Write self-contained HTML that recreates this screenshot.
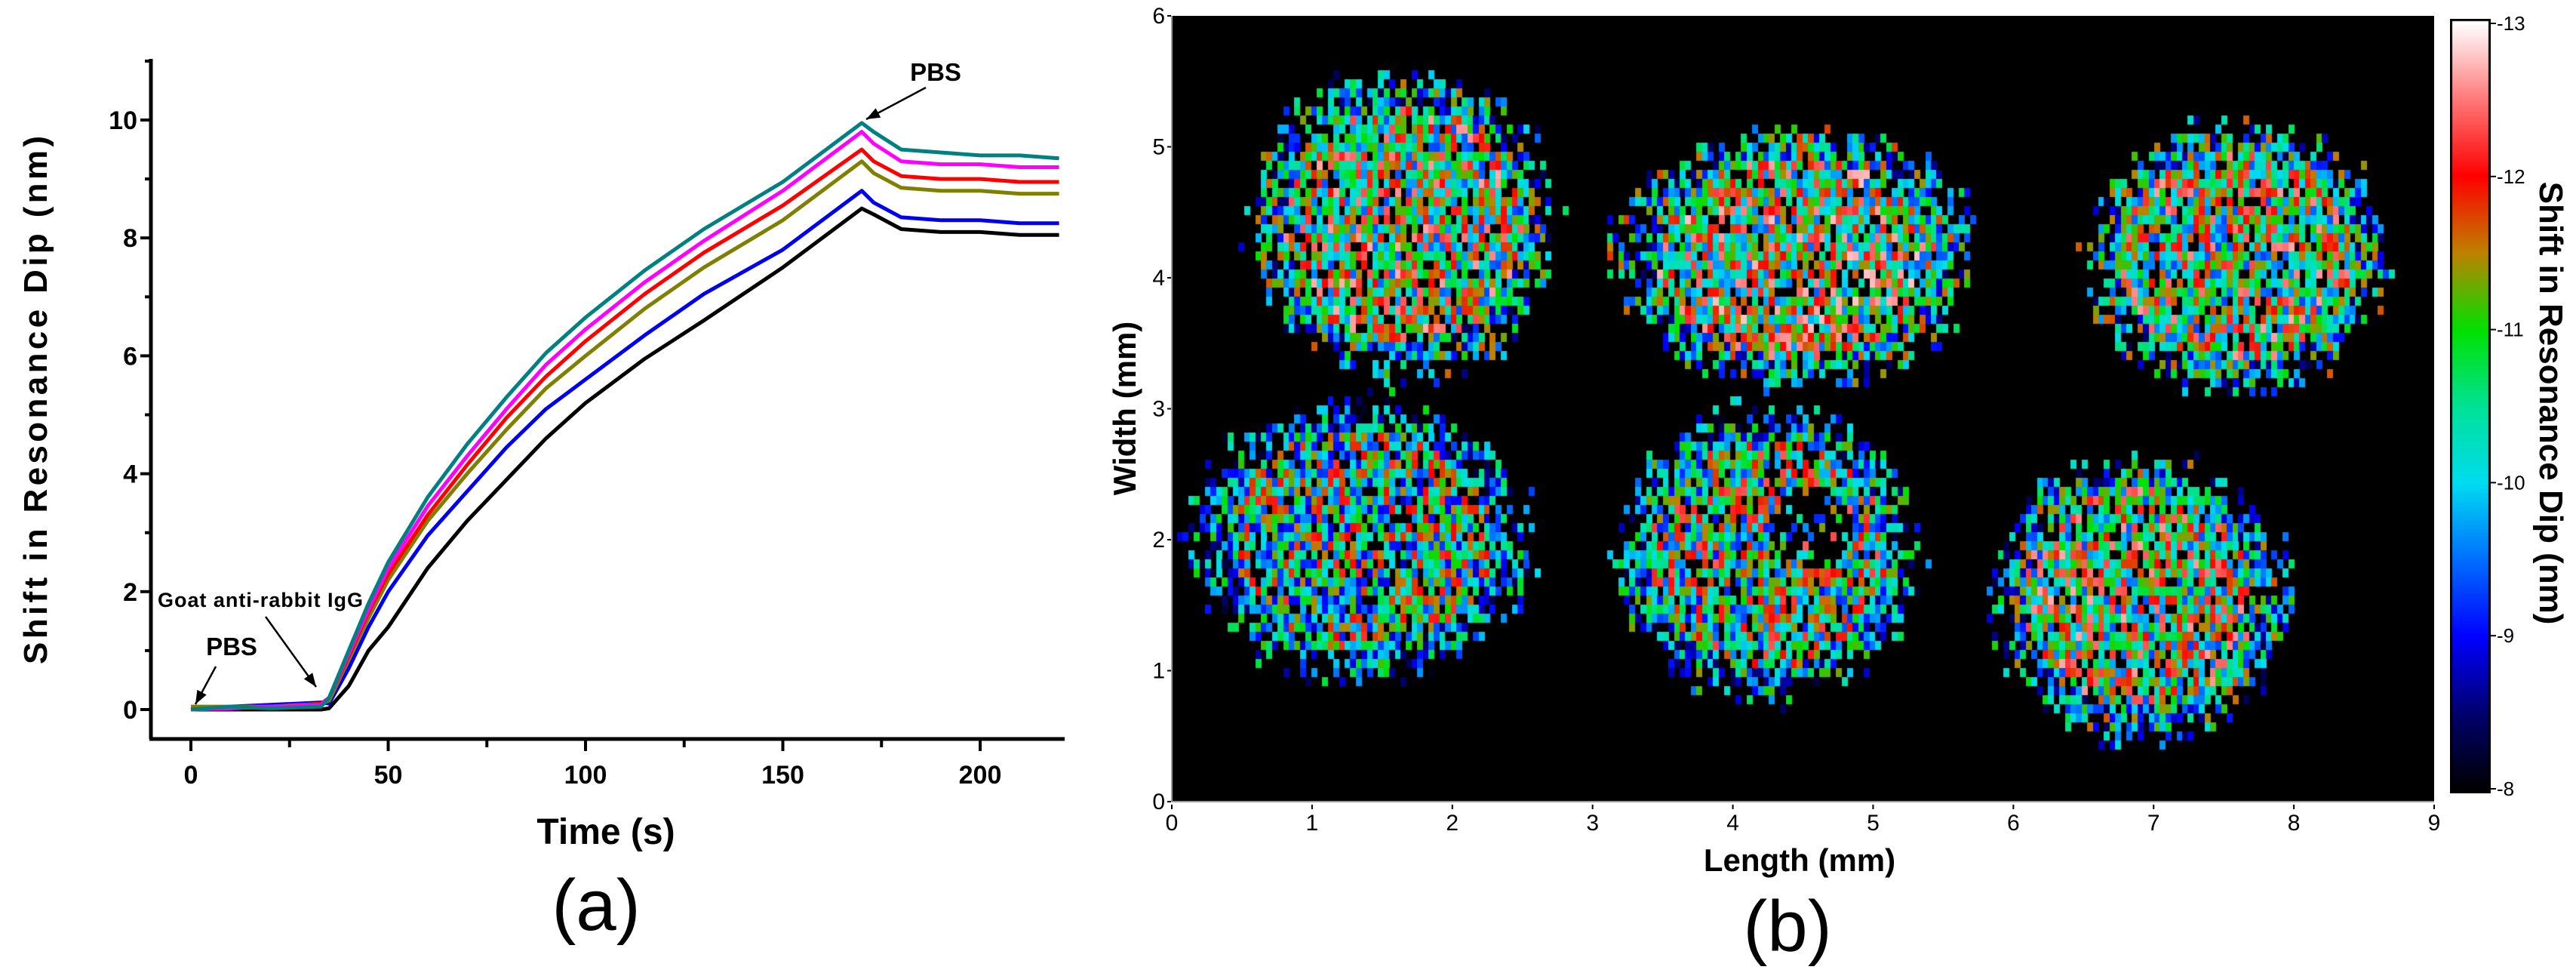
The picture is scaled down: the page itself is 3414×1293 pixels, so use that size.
<!DOCTYPE html>
<html><head><meta charset="utf-8"><style>
html,body{margin:0;padding:0;background:#fff;width:3414px;height:1293px;overflow:hidden}
#wrap{position:relative;width:3414px;height:1293px}
svg{position:absolute;left:0;top:0}
#hm{position:absolute;left:1553px;top:21px}
#cb{position:absolute;left:3247px;top:25px}
text{font-family:"Liberation Sans",sans-serif}
</style></head><body>
<div id="wrap">
<canvas id="hm" width="1673" height="1041"></canvas>
<canvas id="cb" width="54" height="1026"></canvas>
<svg id="s" width="3414" height="1293"></svg>
</div>
<script>
// ---- Panel (a) data ----
const times=[0,10,20,33,35,40,45,50,60,70,80,90,100,115,130,150,170,173,180,190,200,210,220];
const seriesTeal=[0,0.05,0.02,0.05,0.2,1.0,1.8,2.5,3.6,4.5,5.3,6.05,6.65,7.45,8.15,8.95,9.95,9.8,9.5,9.45,9.4,9.4,9.35];
const seriesMagenta=[0,0.02,0.05,0.08,0.2,0.95,1.7,2.4,3.45,4.3,5.1,5.85,6.45,7.25,7.95,8.8,9.8,9.6,9.3,9.25,9.25,9.2,9.2];
const seriesRed=[0,0.03,0.03,0.1,0.2,0.9,1.65,2.3,3.3,4.15,4.95,5.65,6.25,7.05,7.75,8.55,9.5,9.3,9.05,9.0,9.0,8.95,8.95];
const seriesOlive=[0.05,0.05,0.05,0.1,0.15,0.85,1.55,2.2,3.2,4.0,4.75,5.45,6.0,6.8,7.5,8.3,9.3,9.1,8.85,8.8,8.8,8.75,8.75];
const seriesBlue=[0,0.05,0.08,0.12,0.1,0.7,1.4,2.0,2.95,3.7,4.45,5.1,5.6,6.35,7.05,7.8,8.8,8.6,8.35,8.3,8.3,8.25,8.25];
const seriesBlack=[0,0,0,0,0.02,0.4,1.0,1.4,2.4,3.2,3.9,4.6,5.2,5.95,6.6,7.5,8.5,8.4,8.15,8.1,8.1,8.05,8.05];
const xTicks=[0,50,100,150,200];
const yTicks=[0,2,4,6,8,10];
// ---- Panel (b) data ----
const hmXTicks=[0,1,2,3,4,5,6,7,8,9];
const hmYTicks=[0,1,2,3,4,5,6];
const cbTicks=[8,9,10,11,12,13];
const spotCx=[1.65,4.45,7.6,1.35,4.25,6.9];
const spotCy=[4.4,4.15,4.15,2.0,1.9,1.55];
const spotRx=[1.05,1.25,1.05,1.18,1.05,1.03];
const spotRy=[1.15,0.95,1.0,1.05,1.1,1.05];
const spotMean=[11.0,11.1,11.0,10.5,10.7,11.0];

const NS="http://www.w3.org/2000/svg";
const svg=document.getElementById('s');
function mk(tag,attrs,parent){const e=document.createElementNS(NS,tag);for(const k in attrs)e.setAttribute(k,attrs[k]);(parent||svg).appendChild(e);return e;}

// axes for (a)
const ax=v=>253+(v)*5.23;
const ay=v=>940-v*78.1;
let g=mk('g',{});


mk('line',{x1:200,y1:78,x2:200,y2:979,stroke:'#000','stroke-width':5},g);
for(let v=0;v<=11;v++){const y=ay(v);mk('line',{x1:200,y1:y,x2:v%2==0?186:192,y2:y,stroke:'#000','stroke-width':4},g);}
yTicks.forEach(v=>{const t=mk('text',{x:182,y:ay(v)+12,'text-anchor':'end','font-size':34,'font-weight':'bold'},g);t.textContent=v;

});
g=mk('g',{});


mk('line',{x1:198,y1:979,x2:1411,y2:979,stroke:'#000','stroke-width':5},g);
for(let v=0;v<=220;v+=25){const x=ax(v);mk('line',{x1:x,y1:979,x2:x,y2:v%50==0?995:990,stroke:'#000','stroke-width':4},g);}
xTicks.forEach(v=>{const t=mk('text',{x:ax(v),y:1038,'text-anchor':'middle','font-size':34,'font-weight':'bold'},g);t.textContent=v;

});
let t=mk('text',{x:803,y:1118,'text-anchor':'middle','font-size':48,'font-weight':'bold'});t.textContent='Time (s)';


t=mk('text',{x:0,y:0,'text-anchor':'middle','font-size':44,'font-weight':'bold',transform:'translate(62,530) rotate(-90)',textLength:700});t.textContent='Shift in Resonance Dip (nm)';


t=mk('text',{x:790,y:1232,'text-anchor':'middle','font-size':96});t.textContent='(a)';



const series=[[seriesBlack,'#000000','series-black'],[seriesBlue,'#0000ee','series-blue'],[seriesOlive,'#808000','series-olive'],[seriesRed,'#ff0000','series-red'],[seriesMagenta,'#ff00ff','series-magenta'],[seriesTeal,'#008080','series-teal']];
series.forEach(s=>{const d=times.map((tt,i)=>(i?'L':'M')+ax(tt).toFixed(1)+' '+ay(s[0][i]).toFixed(1)).join(' ');
const p=mk('path',{d:d,fill:'none',stroke:s[1],'stroke-width':5,'stroke-linejoin':'round'});

});

// annotations
function arrow(x1,y1,x2,y2,name){const gg=mk('g',{});


mk('line',{x1:x1,y1:y1,x2:x2,y2:y2,stroke:'#000','stroke-width':2.5},gg);
const a=Math.atan2(y2-y1,x2-x1),L=18,W=7;
const bx=x2-L*Math.cos(a),by=y2-L*Math.sin(a);
mk('polygon',{points:`${x2},${y2} ${bx-W*Math.sin(a)},${by+W*Math.cos(a)} ${bx+W*Math.sin(a)},${by-W*Math.cos(a)}`,fill:'#000'},gg);}
arrow(1227,116,1148,158,'arrow-pbs-top');
arrow(352,817,419,910,'arrow-igg');
arrow(286,883,259,933,'arrow-pbs-bottom');
t=mk('text',{x:1240,y:107,'text-anchor':'middle','font-size':33,'font-weight':'bold'});t.textContent='PBS';


t=mk('text',{x:307,y:868,'text-anchor':'middle','font-size':33,'font-weight':'bold'});t.textContent='PBS';


t=mk('text',{x:209,y:804,'font-size':27,'font-weight':'bold',textLength:272});t.textContent='Goat anti-rabbit IgG';



// ---- Panel (b) ----
const L0=1553,T0=21,W0=1673,H0=1041;
const hx=v=>L0+v*W0/9, hy=v=>T0+H0-v*H0/6;
const stops=[[8,[0,0,0]],[8.5,[0,0,110]],[9,[0,0,255]],[9.5,[0,110,255]],[10,[0,220,240]],[10.5,[0,225,150]],[11,[0,225,0]],[11.5,[190,130,0]],[12,[255,0,0]],[12.5,[255,120,120]],[13,[255,255,255]]];
function cmap(v){v=Math.max(8,Math.min(13,v));for(let i=1;i<stops.length;i++){if(v<=stops[i][0]){const a=stops[i-1],b=stops[i],f=(v-a[0])/(b[0]-a[0]);return `rgb(${a[1].map((c,k)=>Math.round(c+(b[1][k]-c)*f)).join(',')})`;}}return '#fff';}
function hash(i,j){let h=(i*374761393+j*668265263)^0x5bd1e995;h=(h^(h>>>13))*1274126177;h=h^(h>>>16);return ((h>>>0)%10000)/10000;}
const ctx=document.getElementById('hm').getContext('2d');
ctx.fillStyle='#000';ctx.fillRect(0,0,W0,H0);
const cw=7.4,ch=12;
for(let j=0;j*ch<H0;j++){for(let i=0;i*cw<W0;i++){
 const mx=(i+0.5)*cw*9/W0, my=6-(j+0.5)*ch*6/H0;
 for(let s=0;s<spotCx.length;s++){
  const dx=(mx-spotCx[s])/spotRx[s],dy=(my-spotCy[s])/spotRy[s],r=Math.sqrt(dx*dx+dy*dy);
  const r1=hash(i,j),r2=hash(j+7,i+13),r3=hash(i+101,j+57);
  if(r<0.85||(r<1.12&&r1>(r-0.85)/0.27)){
   if(r2<0.13)break;
   let v=spotMean[s]+(r3-0.5)*3.4-(r>0.8?1.0:0);
   if(s==4&&Math.hypot(mx-4.55,my-2.1)<0.3&&r2<0.7)break;
   ctx.fillStyle=cmap(v);ctx.fillRect(Math.floor(i*cw),Math.floor(j*ch),Math.ceil(cw),ch);break;}
 }}}
// colorbar
const cctx=document.getElementById('cb').getContext('2d');
for(let y=0;y<1026;y++){cctx.fillStyle=cmap(13-5*(y-5)/1016);cctx.fillRect(0,y,54,1);}
cctx.strokeStyle='#000';cctx.lineWidth=3;cctx.strokeRect(1.5,1.5,51,1023);
const cby=v=>31+(13-v)*(1045-31)/5;
g=mk('g',{});


cbTicks.forEach(v=>{mk('line',{x1:3301,y1:cby(v),x2:3308,y2:cby(v),stroke:'#000','stroke-width':2},g);
const tt=mk('text',{x:3309,y:cby(v)+9,'font-size':26},g);tt.textContent='-'+v;

});
t=mk('text',{x:0,y:0,'text-anchor':'middle','font-size':44,'font-weight':'bold',transform:'translate(3366,534) rotate(90)'});t.textContent='Shift in Resonance Dip (nm)';


g=mk('g',{});


mk('line',{x1:L0,y1:T0+H0,x2:L0+W0,y2:T0+H0,stroke:'#999','stroke-width':2},g);
mk('line',{x1:L0,y1:T0,x2:L0,y2:T0+H0,stroke:'#999','stroke-width':2},g);
hmXTicks.forEach(v=>{mk('line',{x1:hx(v),y1:T0+H0+4,x2:hx(v),y2:T0+H0+10,stroke:'#000','stroke-width':2},g);
const tt=mk('text',{x:hx(v),y:1100,'text-anchor':'middle','font-size':30},g);tt.textContent=v;

});
g=mk('g',{});


hmYTicks.forEach(v=>{mk('line',{x1:L0-6,y1:hy(v),x2:L0-1,y2:hy(v),stroke:'#000','stroke-width':2},g);
const tt=mk('text',{x:L0-9,y:hy(v)+10,'text-anchor':'end','font-size':30},g);tt.textContent=v;

});
t=mk('text',{x:2385,y:1154,'text-anchor':'middle','font-size':42,'font-weight':'bold'});t.textContent='Length (mm)';


t=mk('text',{x:0,y:0,'text-anchor':'middle','font-size':42,'font-weight':'bold',transform:'translate(1505,541) rotate(-90)'});t.textContent='Width (mm)';


t=mk('text',{x:2369,y:1260,'text-anchor':'middle','font-size':96});t.textContent='(b)';


</script>
</body></html>
